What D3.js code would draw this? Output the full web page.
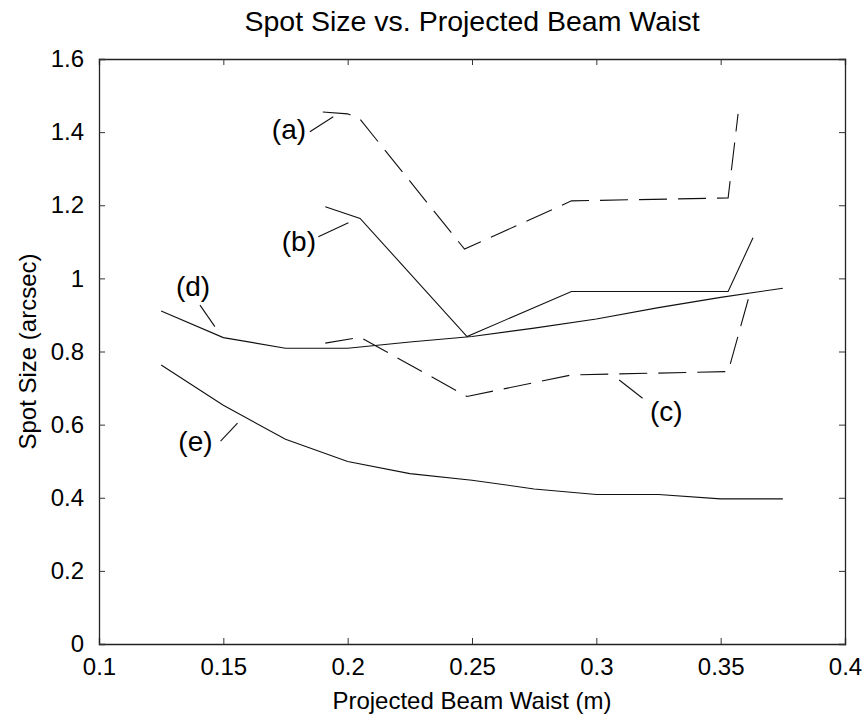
<!DOCTYPE html>
<html>
<head>
<meta charset="utf-8">
<script src="https://cdn.jsdelivr.net/npm/d3@7"></script>
<style>
    body { margin: 0; background: #fff; }
    text { font-family: "Liberation Sans", Arial, sans-serif; fill: #000; }
</style>
</head>
<body>
<div id="chart"></div>
<script>
// curve (a) - dashed
var xA = [0.19, 0.2, 0.205, 0.247, 0.29, 0.353, 0.357];
var yA = [1.455, 1.45, 1.435, 1.08, 1.212, 1.22, 1.45];
// curve (b) - solid
var xB = [0.191, 0.205, 0.248, 0.29, 0.353, 0.363];
var yB = [1.196, 1.164, 0.841, 0.964, 0.964, 1.111];
// curve (c) - dashed
var xC = [0.191, 0.205, 0.248, 0.29, 0.353, 0.362];
var yC = [0.823, 0.839, 0.677, 0.736, 0.745, 0.965];
// curves (d) and (e) - solid, common x grid
var xDE = [0.125, 0.15, 0.175, 0.2, 0.225, 0.25, 0.275, 0.3, 0.325, 0.35, 0.375];
var yD = [0.911, 0.838, 0.809, 0.809, 0.826, 0.841, 0.864, 0.889, 0.92, 0.948, 0.973];
var yE = [0.763, 0.653, 0.56, 0.499, 0.466, 0.448, 0.424, 0.409, 0.409, 0.397, 0.397];

var xTicks = [0.1, 0.15, 0.2, 0.25, 0.3, 0.35, 0.4];
var yTicks = [0, 0.2, 0.4, 0.6, 0.8, 1, 1.2, 1.4, 1.6];

// labels: text anchor and leader line, in data units
var labels = [
    { name: "(a)", tx: 0.1764, ty: 1.406, x1: 0.1848, y1: 1.401, x2: 0.1942, y2: 1.442 },
    { name: "(b)", tx: 0.1804, ty: 1.100, x1: 0.1882, y1: 1.114, x2: 0.2003, y2: 1.152 },
    { name: "(c)", tx: 0.3281, ty: 0.635, x1: 0.3092, y1: 0.722, x2: 0.3186, y2: 0.672 },
    { name: "(d)", tx: 0.1378, ty: 0.977, x1: 0.1406, y1: 0.927, x2: 0.1466, y2: 0.868 },
    { name: "(e)", tx: 0.1388, ty: 0.553, x1: 0.1489, y1: 0.555, x2: 0.1557, y2: 0.604 }
];

function init() {
    var W = 862, H = 725;
    var margin = { top: 59, right: 17, bottom: 81, left: 99 };
    var w = W - margin.left - margin.right;
    var h = H - margin.top - margin.bottom;

    var svg = d3.select("#chart").append("svg")
        .attr("width", W)
        .attr("height", H);

    var g = svg.append("g")
        .attr("transform", "translate(" + margin.left + "," + margin.top + ")");

    var x = d3.scaleLinear().domain([0.1, 0.4]).range([0, w]);
    var y = d3.scaleLinear().domain([0, 1.6]).range([h, 0]);

    var tickLen = 6;

    // axes: inward ticks on all four sides (box on)
    var bottomAxis = d3.axisBottom(x).tickValues(xTicks).tickSize(-tickLen).tickPadding(14)
        .tickFormat(d3.format("~g"));
    var topAxis = d3.axisTop(x).tickValues(xTicks).tickSize(-tickLen).tickFormat("");
    var leftAxis = d3.axisLeft(y).tickValues(yTicks).tickSize(-tickLen).tickPadding(15)
        .tickFormat(d3.format("~g"));
    var rightAxis = d3.axisRight(y).tickValues(yTicks).tickSize(-tickLen).tickFormat("");

    g.append("g").attr("transform", "translate(0," + h + ")").call(bottomAxis);
    g.append("g").call(topAxis);
    g.append("g").call(leftAxis);
    g.append("g").attr("transform", "translate(" + w + ",0)").call(rightAxis);

    g.selectAll(".domain").attr("stroke", "#222").attr("stroke-width", 1.3);
    g.selectAll(".tick line").attr("stroke", "#333").attr("stroke-width", 1);
    g.selectAll(".tick text")
        .style("font-family", "'Liberation Sans', Arial, sans-serif")
        .style("font-size", "24px")
        .attr("fill", "#000");

    var line = d3.line()
        .x(function (d) { return x(d[0]); })
        .y(function (d) { return y(d[1]); });

    var series = [
        { xs: xA, ys: yA, dash: "28,11" },
        { xs: xB, ys: yB, dash: null },
        { xs: xC, ys: yC, dash: "28,11" },
        { xs: xDE, ys: yD, dash: null },
        { xs: xDE, ys: yE, dash: null }
    ];

    series.forEach(function (s) {
        var pts = s.xs.map(function (v, i) { return [v, s.ys[i]]; });
        g.append("path")
            .datum(pts)
            .attr("d", line)
            .attr("fill", "none")
            .attr("stroke", "#111")
            .attr("stroke-width", 1.1)
            .attr("stroke-dasharray", s.dash);
    });

    // leader lines and labels
    g.selectAll(".leader")
        .data(labels)
        .join("line")
        .attr("class", "leader")
        .attr("x1", function (d) { return x(d.x1); })
        .attr("y1", function (d) { return y(d.y1); })
        .attr("x2", function (d) { return x(d.x2); })
        .attr("y2", function (d) { return y(d.y2); })
        .attr("stroke", "#111")
        .attr("stroke-width", 1.1);

    g.selectAll(".lbl")
        .data(labels)
        .join("text")
        .attr("class", "lbl")
        .attr("x", function (d) { return x(d.tx); })
        .attr("y", function (d) { return y(d.ty); })
        .attr("text-anchor", "middle")
        .attr("dominant-baseline", "central")
        .style("font-size", "28px")
        .text(function (d) { return d.name; });

    // title and axis labels
    svg.append("text")
        .attr("x", margin.left + w / 2)
        .attr("y", 31)
        .attr("text-anchor", "middle")
        .style("font-size", "28.5px")
        .text("Spot Size vs. Projected Beam Waist");

    svg.append("text")
        .attr("x", margin.left + w / 2)
        .attr("y", 709)
        .attr("text-anchor", "middle")
        .style("font-size", "24px")
        .text("Projected Beam Waist (m)");

    svg.append("text")
        .attr("transform", "translate(36," + (margin.top + h / 2) + ") rotate(-90)")
        .attr("text-anchor", "middle")
        .style("font-size", "24px")
        .text("Spot Size (arcsec)");
}

window.onload = init;
</script>
</body>
</html>
